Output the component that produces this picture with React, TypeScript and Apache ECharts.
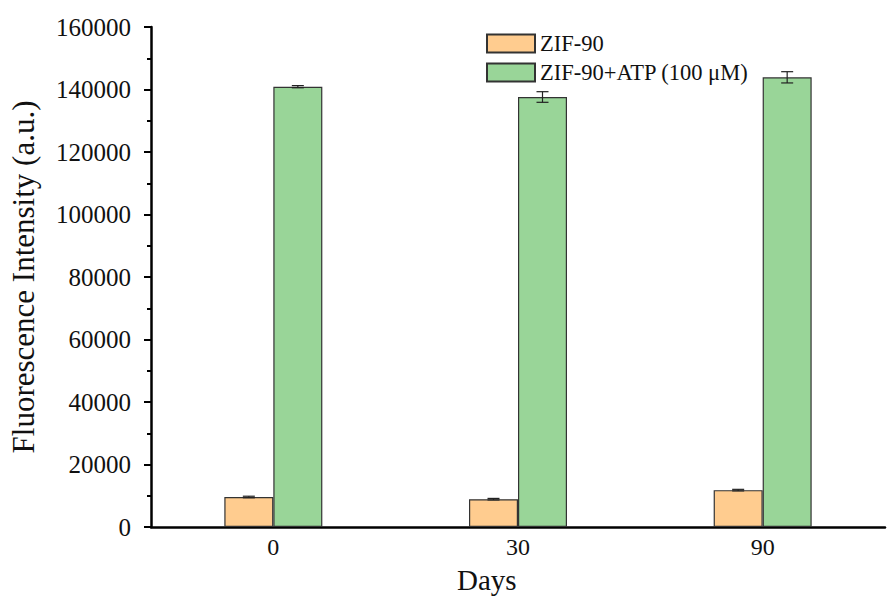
import React, { useEffect, useRef } from "react";
import * as echarts from "echarts";

const categories = ["0", "30", "90"];
const zifValues = [9600, 8900, 11800];
const zifErrors = [250, 250, 250];
const atpValues = [140900, 137600, 143900];
const atpErrors = [350, 1700, 1800];
const seriesNames = ["ZIF-90", "ZIF-90+ATP (100 μM)"];
const yTicks = { min: 0, max: 160000, interval: 20000 };

const FONT = "'Liberation Serif', 'Times New Roman', serif";
const BAR_W = 49;
const ORANGE = "#FFCC8F";
const GREEN = "#99D598";

export default function App() {
  const ref = useRef<HTMLDivElement>(null);
  useEffect(() => {
    if (!ref.current) return;
    const chart = echarts.init(ref.current, null, { renderer: "svg" });
    const errSeries = (name: string, vals: number[], errs: number[], dir: number) => ({
      type: "custom",
      name: name + "-err",
      z: 10,
      silent: true,
      data: vals.map((v, i) => [i, v, errs[i]]),
      encode: { x: 0, y: 1 },
      renderItem: (params: any, api: any) => {
        const i = api.value(0);
        const v = api.value(1);
        const e = api.value(2);
        const top = api.coord([i, v + e]);
        const bot = api.coord([i, v - e]);
        const x = top[0] + (dir * BAR_W) / 2;
        const cap = 6;
        const style = { stroke: "#222", lineWidth: 1.2 };
        return {
          type: "group",
          children: [
            { type: "line", shape: { x1: x, y1: top[1], x2: x, y2: bot[1] }, style },
            { type: "line", shape: { x1: x - cap, y1: top[1], x2: x + cap, y2: top[1] }, style },
            { type: "line", shape: { x1: x - cap, y1: bot[1], x2: x + cap, y2: bot[1] }, style },
          ],
        };
      },
    });
    chart.setOption({
      animation: false,
      backgroundColor: "#fff",
      grid: { left: 150, right: 4, top: 27, bottom: 70, containLabel: false },
      legend: {
        data: seriesNames,
        orient: "vertical",
        left: 486,
        top: 32,
        padding: 0,
        itemWidth: 48,
        itemHeight: 18,
        itemGap: 6,
        textStyle: { fontFamily: FONT, fontSize: 22.5, color: "#111" },
        icon: "rect",
      },
      xAxis: [
        {
          type: "category",
          data: categories,
          axisLine: { lineStyle: { color: "#000", width: 2.5 } },
          axisTick: { alignWithLabel: true, length: 8, lineStyle: { color: "#000", width: 2 } },
          axisLabel: { fontFamily: FONT, fontSize: 24, color: "#111", margin: 8 },
        },
        {
          type: "category",
          data: categories,
          position: "bottom",
          axisLine: { show: false },
          axisTick: { length: 5, lineStyle: { color: "#000", width: 2 } },
          axisLabel: { show: false },
        },
      ],
      yAxis: {
        type: "value",
        min: yTicks.min,
        max: yTicks.max,
        interval: yTicks.interval,
        name: "Fluorescence Intensity (a.u.)",
        nameLocation: "middle",
        nameGap: 112,
        nameTextStyle: { fontFamily: FONT, fontSize: 31, color: "#111" },
        axisLine: { show: true, lineStyle: { color: "#000", width: 2.5 } },
        axisTick: { show: true, length: 7, lineStyle: { color: "#000", width: 2 } },
        minorTick: { show: true, splitNumber: 2, length: 4, lineStyle: { color: "#000", width: 2 } },
        splitLine: { show: false },
        axisLabel: {
          fontFamily: FONT,
          fontSize: 25,
          color: "#111",
          margin: 20,
          formatter: (v: number) => String(v),
        },
      },
      graphic: [
        {
          type: "text",
          left: 488 - 31,
          top: 565,
          style: { text: "Days", fontFamily: FONT, fontSize: 29, fill: "#111" },
        },
      ],
      series: [
        {
          type: "bar",
          name: seriesNames[0],
          data: zifValues,
          barWidth: BAR_W,
          barGap: "0%",
          itemStyle: { color: ORANGE, borderColor: "#333", borderWidth: 1.2 },
        },
        {
          type: "bar",
          name: seriesNames[1],
          data: atpValues,
          barWidth: BAR_W,
          barGap: "0%",
          itemStyle: { color: GREEN, borderColor: "#333", borderWidth: 1.2 },
        },
        errSeries(seriesNames[0], zifValues, zifErrors, -1),
        errSeries(seriesNames[1], atpValues, atpErrors, 1),
      ],
    });
    return () => chart.dispose();
  }, []);
  return (
    <div
      ref={ref}
      style={{ position: "absolute", left: 0, top: 0, width: 889, height: 597 }}
    />
  );
}
